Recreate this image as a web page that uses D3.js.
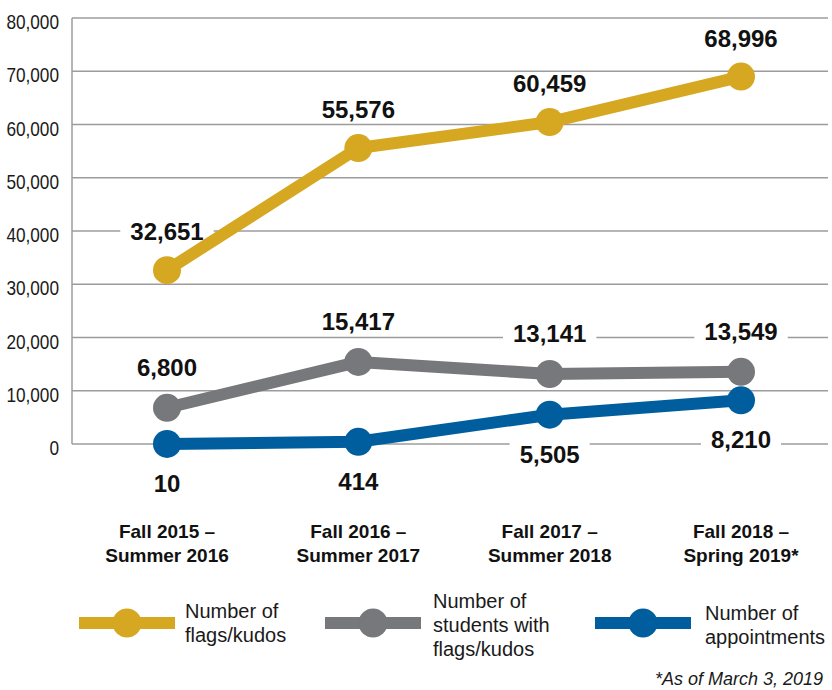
<!DOCTYPE html>
<html>
<head>
<meta charset="utf-8">
<script src="https://cdn.jsdelivr.net/npm/d3@7/dist/d3.min.js"></script>
<style>
  html, body { margin: 0; padding: 0; background: #fff; }
  svg { display: block; }
</style>
</head>
<body>
<svg id="chart" width="832" height="690"></svg>
<script>
// ---- data ----
const categories = [
  ["Fall 2015 –", "Summer 2016"],
  ["Fall 2016 –", "Summer 2017"],
  ["Fall 2017 –", "Summer 2018"],
  ["Fall 2018 –", "Spring 2019*"]
];
const flags = [32651, 55576, 60459, 68996];
const students = [6800, 15417, 13141, 13549];
const appointments = [10, 414, 5505, 8210];
const yTicks = [0, 10000, 20000, 30000, 40000, 50000, 60000, 70000, 80000];
const seriesNames = [
  ["Number of", "flags/kudos"],
  ["Number of", "students with", "flags/kudos"],
  ["Number of", "appointments"]
];
const footnote = "*As of March 3, 2019";

// ---- styles ----
const colors = ["#D6A720", "#77787B", "#005E9E"];
const series = [
  { values: flags, color: colors[0], dy: -30 },
  { values: students, color: colors[1], dy: -32 },
  { values: appointments, color: colors[2], dy: 48 }
];

const svg = d3.select("#chart");
const x = d3.scalePoint().domain(d3.range(categories.length)).range([167, 741]);
const y = d3.scaleLinear().domain([0, 80000]).range([444, 18]);

const fmt = d3.format(",");
const gridColor = "#9c9c9c";
const labelFont = "'Liberation Sans', Arial, sans-serif";

// y axis tick labels (condensed look via horizontal scale)
const tickScale = 0.82;
const yAxis = d3.axisLeft(y).tickValues(yTicks).tickSize(0).tickPadding(0).tickFormat(fmt);
const gAxis = svg.append("g").attr("transform", "translate(72,0)").call(yAxis);
gAxis.select(".domain").remove();
gAxis.selectAll(".tick line").remove();
gAxis.selectAll(".tick text")
  .attr("x", -13 / tickScale)
  .attr("dy", null)
  .attr("y", 10.5)
  .attr("transform", `scale(${tickScale},1)`)
  .style("font-family", labelFont)
  .style("font-size", "21px")
  .attr("fill", "#1a1a1a");

// gridlines
svg.append("g").selectAll("line")
  .data(yTicks)
  .join("line")
  .attr("x1", 72).attr("x2", 828)
  .attr("y1", d => y(d)).attr("y2", d => y(d))
  .attr("stroke", gridColor).attr("stroke-width", 1.5);

svg.append("line")
  .attr("x1", 72).attr("x2", 72)
  .attr("y1", y(80000)).attr("y2", y(0))
  .attr("stroke", gridColor).attr("stroke-width", 1.5);

// label background (white knock-out)
const labelLayer = svg.append("g");
series.forEach(s => {
  s.values.forEach((v, i) => {
    const t = labelLayer.append("text")
      .attr("x", x(i)).attr("y", y(v) + s.dy)
      .attr("text-anchor", "middle")
      .style("font-family", labelFont)
      .style("font-weight", "bold")
      .style("font-size", "24px")
      .text(fmt(v));
    const bb = t.node().getBBox();
    t.remove();
    labelLayer.append("rect")
      .attr("x", bb.x - 10).attr("y", bb.y + 2)
      .attr("width", bb.width + 20).attr("height", bb.height - 4)
      .attr("fill", "#fff");
  });
});

// lines + points
const line = d3.line().x((d, i) => x(i)).y(d => y(d));
series.forEach(s => {
  svg.append("path")
    .datum(s.values)
    .attr("d", line)
    .attr("fill", "none")
    .attr("stroke", s.color)
    .attr("stroke-width", 12)
    .attr("stroke-linejoin", "round");
  svg.append("g").selectAll("circle")
    .data(s.values)
    .join("circle")
    .attr("cx", (d, i) => x(i))
    .attr("cy", d => y(d))
    .attr("r", 14)
    .attr("fill", s.color);
});

// data labels
series.forEach(s => {
  svg.append("g").selectAll("text")
    .data(s.values)
    .join("text")
    .attr("x", (d, i) => x(i))
    .attr("y", d => y(d) + s.dy)
    .attr("text-anchor", "middle")
    .style("font-family", labelFont)
    .style("font-weight", "bold")
    .style("font-size", "24px")
    .attr("fill", "#111")
    .text(d => fmt(d));
});

// category labels
const catG = svg.append("g");
categories.forEach((lines, i) => {
  const t = catG.append("text")
    .attr("text-anchor", "middle")
    .style("font-family", labelFont)
    .style("font-weight", "bold")
    .style("font-size", "19px")
    .attr("fill", "#111");
  lines.forEach((ln, j) => {
    t.append("tspan").attr("x", x(i)).attr("y", 538 + j * 24).text(ln);
  });
});

// legend
const legendX = [79, 325, 595];
const legendTextX = [185, 433, 705];
const legendBase = [618, 608, 620];
const legendY = 623;
seriesNames.forEach((names, i) => {
  const g = svg.append("g");
  g.append("line")
    .attr("x1", legendX[i]).attr("x2", legendX[i] + 96)
    .attr("y1", legendY).attr("y2", legendY)
    .attr("stroke", colors[i]).attr("stroke-width", 12);
  g.append("circle")
    .attr("cx", legendX[i] + 48).attr("cy", legendY).attr("r", 14.5)
    .attr("fill", colors[i]);
  const t = g.append("text")
    .style("font-family", labelFont)
    .style("font-size", "20px")
    .attr("fill", "#1a1a1a");
  names.forEach((n, j) => {
    t.append("tspan").attr("x", legendTextX[i]).attr("y", legendBase[i] + j * 24).text(n);
  });
});

svg.append("text")
  .attr("x", 823).attr("y", 685)
  .attr("text-anchor", "end")
  .style("font-family", labelFont)
  .style("font-style", "italic")
  .style("font-size", "18px")
  .attr("fill", "#1a1a1a")
  .text(footnote);
</script>
</body>
</html>
